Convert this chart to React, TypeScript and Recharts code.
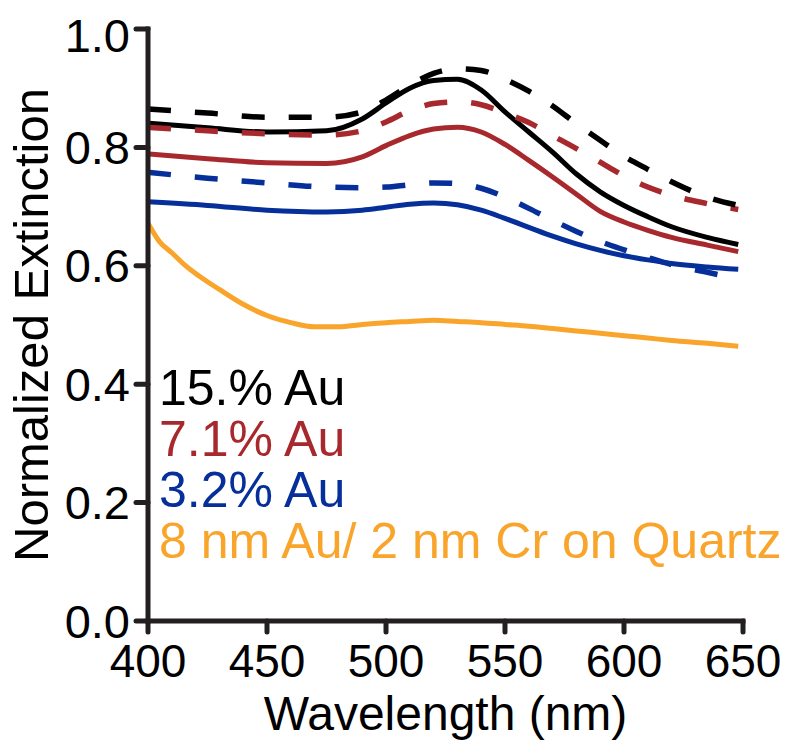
import { LineChart, Line, XAxis, YAxis, Legend, Label } from "recharts";

// wavelength grid (nm) for the Au nanoparticle films
const wavelengths = [400, 425, 450, 475, 490, 500, 510, 520, 530, 540, 550, 560, 570, 580, 590, 600, 610, 620, 635, 648];

const au15 = [0.841, 0.833, 0.826, 0.828, 0.848, 0.875, 0.9, 0.913, 0.915, 0.897, 0.86, 0.826, 0.792, 0.755, 0.725, 0.702, 0.683, 0.666, 0.648, 0.636];
const au15Dash = [0.865, 0.858, 0.851, 0.851, 0.86, 0.88, 0.905, 0.925, 0.933, 0.93, 0.915, 0.895, 0.87, 0.84, 0.812, 0.785, 0.763, 0.742, 0.716, 0.702];
const au71 = [0.789, 0.781, 0.774, 0.773, 0.784, 0.803, 0.82, 0.831, 0.834, 0.826, 0.805, 0.778, 0.75, 0.721, 0.692, 0.674, 0.66, 0.648, 0.635, 0.624];
const au71Dash = [0.834, 0.828, 0.823, 0.821, 0.828, 0.843, 0.862, 0.874, 0.877, 0.872, 0.858, 0.842, 0.82, 0.798, 0.775, 0.752, 0.733, 0.719, 0.705, 0.695];
const au32 = [0.708, 0.702, 0.694, 0.691, 0.694, 0.699, 0.704, 0.706, 0.703, 0.694, 0.68, 0.665, 0.65, 0.637, 0.626, 0.617, 0.61, 0.604, 0.598, 0.594];
const au32Dash = [0.758, 0.748, 0.74, 0.733, 0.732, 0.733, 0.737, 0.74, 0.739, 0.731, 0.716, 0.697, 0.677, 0.658, 0.641, 0.627, 0.614, 0.602, 0.589, 0.578];

// 8 nm Au / 2 nm Cr film on quartz
const quartzWavelengths = [400, 405, 410, 415, 420, 425, 430, 440, 450, 460, 470, 480, 490, 500, 510, 520, 530, 540, 550, 560, 570, 580, 590, 600, 610, 620, 635, 648];
const quartz = [0.672, 0.64, 0.622, 0.603, 0.587, 0.573, 0.56, 0.535, 0.516, 0.504, 0.497, 0.497, 0.501, 0.504, 0.506, 0.508, 0.506, 0.504, 0.501, 0.498, 0.494, 0.49, 0.486, 0.482, 0.478, 0.474, 0.469, 0.464];

const xTicks = [400, 450, 500, 550, 600, 650];
const yTicks = [0, 0.2, 0.4, 0.6, 0.8, 1.0];

const BLACK = "#000000";
const RED = "#a8292d";
const BLUE = "#062f9a";
const ORANGE = "#f9a52b";
const AXIS = "#231f20";
const FONT = "'Liberation Sans', Arial, sans-serif";

const legendItems = [
  { label: "15.% Au", color: BLACK },
  { label: "7.1% Au", color: RED },
  { label: "3.2% Au", color: BLUE },
  { label: "8 nm Au/ 2 nm Cr on Quartz", color: ORANGE },
];

const toRows = (xs: number[], ys: number[]) => xs.map((wl, i) => ({ wl, v: ys[i] }));

const series = [
  { key: "quartz", data: toRows(quartzWavelengths, quartz), color: ORANGE, dashed: false },
  { key: "au32", data: toRows(wavelengths, au32), color: BLUE, dashed: false },
  { key: "au71", data: toRows(wavelengths, au71), color: RED, dashed: false },
  { key: "au15", data: toRows(wavelengths, au15), color: BLACK, dashed: false },
  { key: "au32d", data: toRows(wavelengths, au32Dash), color: BLUE, dashed: true },
  { key: "au71d", data: toRows(wavelengths, au71Dash), color: RED, dashed: true },
  { key: "au15d", data: toRows(wavelengths, au15Dash), color: BLACK, dashed: true },
];

const LegendText = () => (
  <div style={{ fontFamily: FONT, fontSize: 50, lineHeight: "51px", whiteSpace: "nowrap" }}>
    {legendItems.map((it) => (
      <div key={it.label} style={{ color: it.color }}>
        {it.label}
      </div>
    ))}
  </div>
);

const App = () => {
  return (
    <LineChart width={790} height={742} margin={{ top: 21, right: 55, left: 0, bottom: 20 }} style={{ fontFamily: FONT }}>
      <XAxis
        dataKey="wl"
        type="number"
        domain={[400, 650]}
        ticks={xTicks}
        allowDuplicatedCategory={false}
        height={109}
        axisLine={{ stroke: AXIS, strokeWidth: 5, strokeLinecap: "square" }}
        tickLine={{ stroke: AXIS, strokeWidth: 5, strokeLinecap: "round" }}
        tickSize={11}
        tickMargin={12}
        tick={{ fill: "#000", fontSize: 46, fontFamily: FONT }}
      >
        <Label value="Wavelength (nm)" position="insideBottom" offset={0} fill="#000" fontSize={48} fontFamily={FONT} />
      </XAxis>
      <YAxis
        type="number"
        domain={[0, 1]}
        ticks={yTicks}
        width={140}
        tickFormatter={(v: number) => v.toFixed(1)}
        axisLine={{ stroke: AXIS, strokeWidth: 5, strokeLinecap: "square" }}
        tickLine={{ stroke: AXIS, strokeWidth: 5, strokeLinecap: "round" }}
        tickSize={12}
        tickMargin={6}
        tick={{ fill: "#000", fontSize: 47, fontFamily: FONT }}
      >
        <Label value="Normalized Extinction" angle={-90} position="center" dx={-47} fill="#000" fontSize={49} fontFamily={FONT} />
      </YAxis>
      <Legend
        layout="vertical"
        align="center"
        verticalAlign="middle"
        content={() => <LegendText />}
        wrapperStyle={{ left: 151, top: 355, width: "auto" }}
      />
      {series.map((s) => (
        <Line
          key={s.key}
          data={s.data}
          dataKey="v"
          type="monotone"
          stroke={s.color}
          strokeWidth={s.dashed ? 5.5 : 5}
          strokeDasharray={s.dashed ? "23 24" : undefined}
          dot={false}
          activeDot={false}
          legendType="none"
          isAnimationActive={false}
        />
      ))}
    </LineChart>
  );
};

export default App;
